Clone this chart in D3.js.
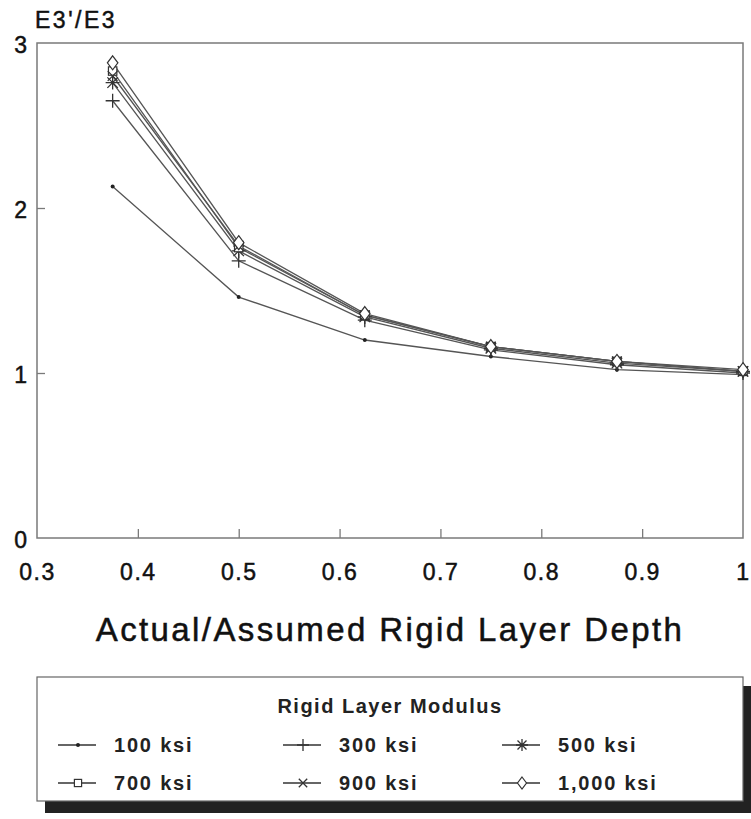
<!DOCTYPE html>
<html>
<head>
<meta charset="utf-8">
<script src="https://cdn.jsdelivr.net/npm/d3@7"></script>
<style>
  body { margin: 0; background: #fff; }
  svg { font-family: "Liberation Sans", Arial, sans-serif; }
</style>
</head>
<body>
<svg width="751" height="819"></svg>
<script>
var depths = [0.375, 0.5, 0.625, 0.75, 0.875, 1.0];
var ksi100  = [2.13, 1.46, 1.20, 1.10, 1.02, 0.99];
var ksi300  = [2.65, 1.68, 1.32, 1.14, 1.05, 1.00];
var ksi500  = [2.76, 1.74, 1.34, 1.15, 1.06, 1.01];
var ksi700  = [2.83, 1.76, 1.35, 1.16, 1.07, 1.01];
var ksi900  = [2.80, 1.77, 1.35, 1.16, 1.07, 1.01];
var ksi1000 = [2.88, 1.79, 1.36, 1.16, 1.07, 1.02];
var seriesNames = ["100 ksi", "300 ksi", "500 ksi", "700 ksi", "900 ksi", "1,000 ksi"];
var seriesSymbols = ["dot", "plus", "star", "square", "cross", "diamond"];
var xTicks = [0.3, 0.4, 0.5, 0.6, 0.7, 0.8, 0.9, 1];
var yTicks = [0, 1, 2, 3];

var series = [ksi100, ksi300, ksi500, ksi700, ksi900, ksi1000].map(function(vals, i) {
    return {name: seriesNames[i], sym: seriesSymbols[i],
            pts: vals.map(function(v, j) { return {x: depths[j], y: v}; })};
});

var svg = d3.select("svg"),
    margin = {top: 43, left: 37, right: 8, bottom: 281},
    width = 751 - margin.left - margin.right,
    height = 819 - margin.top - margin.bottom;

var x = d3.scaleLinear().domain([0.3, 1]).range([0, width]),
    y = d3.scaleLinear().domain([0, 3]).range([height, 0]);

var g = svg.append("g")
    .attr("transform", "translate(" + margin.left + "," + margin.top + ")");

var frame = "#7a7a7a";

// plot frame
g.append("rect")
    .attr("width", width).attr("height", height)
    .attr("fill", "none").attr("stroke", frame).attr("stroke-width", 1.5);

function labelStyle(sel, size, spacing) {
    sel.attr("font-size", size).attr("fill", "#111")
        .attr("stroke", "#111").attr("stroke-width", 0.5)
        .attr("letter-spacing", spacing);
}

// x axis, inward ticks
var xAxis = g.append("g")
    .attr("transform", "translate(0," + height + ")")
    .call(d3.axisBottom(x).tickValues(xTicks).tickSizeInner(-9).tickSizeOuter(0)
        .tickPadding(26).tickFormat(function(d) { return d === 1 ? "1" : d3.format(".1f")(d); }));
xAxis.select(".domain").remove();
xAxis.selectAll("line").attr("stroke", frame).attr("stroke-width", 1.3)
    .filter(function(d) { return d === 0.3 || d === 1; }).remove();
labelStyle(xAxis.selectAll("text"), 23, 1.5);

// y axis, inward ticks
var yAxis = g.append("g")
    .call(d3.axisLeft(y).tickValues(yTicks).tickSizeInner(-8).tickSizeOuter(0)
        .tickPadding(10).tickFormat(d3.format("d")));
yAxis.select(".domain").remove();
yAxis.selectAll("line").attr("stroke", frame).attr("stroke-width", 1.3)
    .filter(function(d) { return d === 0 || d === 3; }).remove();
labelStyle(yAxis.selectAll("text"), 23, 0);
yAxis.selectAll("text").attr("dy", "0.4em");

labelStyle(svg.append("text")
    .attr("x", 35).attr("y", 28)
    .text("E3'/E3"), 23, 2.5);

labelStyle(svg.append("text")
    .attr("x", 390).attr("y", 641)
    .attr("text-anchor", "middle")
    .text("Actual/Assumed Rigid Layer Depth"), 33, 2.4);

// marker drawer
function drawMarker(sel, sym, s) {
    var st = "#333";
    if (sym === "dot") {
        sel.append("circle").attr("r", 2).attr("fill", "#222");
    } else if (sym === "plus") {
        sel.append("path").attr("d", "M" + (-s) + ",0H" + s + "M0," + (-s) + "V" + s)
            .attr("stroke", st).attr("stroke-width", 1.3).attr("fill", "none");
    } else if (sym === "star") {
        var a = s * 0.75;
        sel.append("path").attr("d", "M" + (-s) + ",0H" + s + "M0," + (-s) + "V" + s +
                "M" + (-a) + "," + (-a) + "L" + a + "," + a + "M" + (-a) + "," + a + "L" + a + "," + (-a))
            .attr("stroke", st).attr("stroke-width", 1.3).attr("fill", "none");
    } else if (sym === "square") {
        var h = s * 0.6;
        sel.append("rect").attr("x", -h).attr("y", -h).attr("width", 2 * h).attr("height", 2 * h)
            .attr("fill", "#fff").attr("stroke", st).attr("stroke-width", 1.2);
    } else if (sym === "cross") {
        var c = s * 0.7;
        sel.append("path").attr("d", "M" + (-c) + "," + (-c) + "L" + c + "," + c + "M" + (-c) + "," + c + "L" + c + "," + (-c))
            .attr("stroke", st).attr("stroke-width", 1.3).attr("fill", "none");
    } else if (sym === "diamond") {
        var d = s * 0.75;
        sel.append("path").attr("d", "M0," + (-s) + "L" + d + ",0L0," + s + "L" + (-d) + ",0Z")
            .attr("fill", "#fff").attr("stroke", st).attr("stroke-width", 1.2);
    }
}

var line = d3.line()
    .x(function(d) { return x(d.x); })
    .y(function(d) { return y(d.y); });

g.selectAll(".series")
    .data(series)
    .enter().append("path")
        .attr("class", "series")
        .attr("d", function(d) { return line(d.pts); })
        .attr("fill", "none")
        .attr("stroke", "#555")
        .attr("stroke-width", 1.3);

series.forEach(function(s) {
    g.selectAll(null)
        .data(s.pts)
        .enter().append("g")
            .attr("transform", function(d) { return "translate(" + x(d.x) + "," + y(d.y) + ")"; })
            .each(function() { drawMarker(d3.select(this), s.sym, 7); });
});

// legend
var lg = svg.append("g");
lg.append("rect").attr("x", 45).attr("y", 686).attr("width", 706).attr("height", 127).attr("fill", "#222");
lg.append("rect").attr("x", 37).attr("y", 677).attr("width", 706).attr("height", 124)
    .attr("fill", "#fff").attr("stroke", "#666").attr("stroke-width", 1.2);
lg.append("text").attr("x", 390).attr("y", 713).attr("text-anchor", "middle")
    .attr("font-size", 20).attr("font-weight", "bold").attr("fill", "#222")
    .attr("letter-spacing", 1.5)
    .text("Rigid Layer Modulus");

var colX = [58, 283, 502];
var rowY = [745, 783];
series.forEach(function(s, i) {
    var cx = colX[i % 3], cy = rowY[Math.floor(i / 3)];
    var item = lg.append("g").attr("transform", "translate(" + cx + "," + cy + ")");
    item.append("line").attr("x1", 0).attr("x2", 38).attr("stroke", "#333").attr("stroke-width", 1.3);
    var m = item.append("g").attr("transform", "translate(20,0)");
    drawMarker(m, s.sym, 6);
    item.append("text").attr("x", 56).attr("y", 7)
        .attr("font-size", 20).attr("font-weight", "bold").attr("fill", "#222")
        .attr("letter-spacing", 1.8)
        .text(s.name);
});
</script>
</body>
</html>
